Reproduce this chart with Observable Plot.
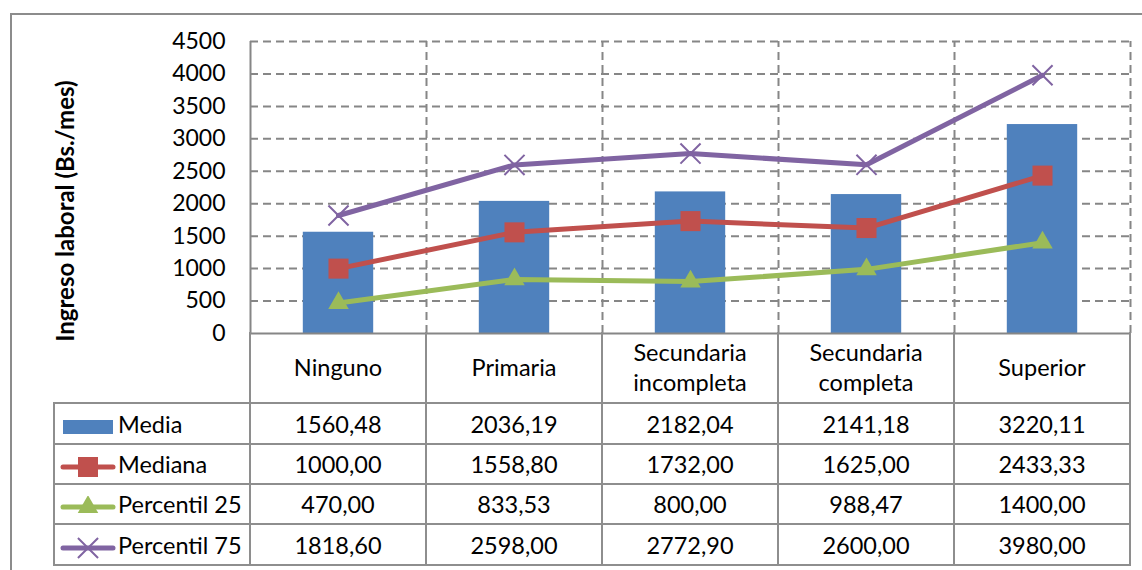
<!DOCTYPE html>
<html><head><meta charset="utf-8">
<script src="https://cdn.jsdelivr.net/npm/d3@7"></script>
<script src="https://cdn.jsdelivr.net/npm/@observablehq/plot@0.6"></script>
<style>
body{margin:0;background:#fff;font-family:Lato,"Open Sans",sans-serif;}
#wrap{position:relative;width:1142px;height:570px;overflow:hidden;background:#fff;}
#frame{position:absolute;left:10px;top:13px;width:1300px;height:700px;border-left:2px solid #8c8c8c;border-top:2px solid #8c8c8c;}
#chart{position:absolute;left:0;top:0;}
#ytitle{position:absolute;left:64px;top:211px;transform:translate(-50%,-50%) rotate(-90deg);font-weight:bold;font-size:24px;white-space:nowrap;color:#000;}
#tbl{position:absolute;left:53px;top:332px;border-collapse:collapse;table-layout:fixed;font-size:23.5px;color:#000;}
#tbl td{border:2px solid #8e8e8e;text-align:center;padding:0;line-height:30px;}
#tbl td.leg{text-align:left;white-space:nowrap;}
#tbl td.leg svg{vertical-align:middle;margin-left:5px;margin-right:2px;}
#tbl td.blank{border:none;}
#tbl tr.head td{border-top:none;}
</style>
</head><body>
<div id="wrap">
  <div id="frame"></div>
  <div id="chart"></div>
  <div id="ytitle"></div>
</div>
<script>
const categories = ["Ninguno", "Primaria", "Secundaria incompleta", "Secundaria completa", "Superior"];
const categoryLines = [["Ninguno"], ["Primaria"], ["Secundaria", "incompleta"], ["Secundaria", "completa"], ["Superior"]];
const media = [1560.48, 2036.19, 2182.04, 2141.18, 3220.11];
const mediana = [1000.00, 1558.80, 1732.00, 1625.00, 2433.33];
const percentil25 = [470.00, 833.53, 800.00, 988.47, 1400.00];
const percentil75 = [1818.60, 2598.00, 2772.90, 2600.00, 3980.00];
const yTicks = [0, 500, 1000, 1500, 2000, 2500, 3000, 3500, 4000, 4500];
const yTitle = "Ingreso laboral (Bs./mes)";

document.getElementById("ytitle").textContent = yTitle;

const W = 1142, H = 345, ML = 250, MR = 12, MT = 41, MB = 12;
const bw = (W - ML - MR) / categories.length;
const gridStyle = {stroke: "#868686", strokeWidth: 2, strokeDasharray: "8,5"};

const lineSeries = [
  {name: "Mediana", values: mediana, color: "#C0504D", symbol: "square", r: 11.3, fill: true},
  {name: "Percentil 25", values: percentil25, color: "#9BBB59", symbol: "triangle", r: 7.6, fill: true},
  {name: "Percentil 75", values: percentil75, color: "#8064A2", symbol: "times", r: 9.2, fill: false}
];

const rows = categories.map((c, i) => ({cat: c, media: media[i]}));
const yMax = yTicks[yTicks.length - 1];

const marks = [
  Plot.ruleY(yTicks.slice(1), gridStyle),
  Plot.ruleX(categories.slice(1), {y1: 0, y2: yMax, dx: -bw / 2, ...gridStyle}),
  Plot.ruleX(categories.slice(-1), {y1: 0, y2: yMax, dx: bw / 2, ...gridStyle}),
  Plot.barY(rows, {x: "cat", y: "media", fill: "#4F81BD", insetLeft: bw * 0.3, insetRight: bw * 0.3}),
  Plot.ruleX(categories.slice(0, 1), {y1: 0, y2: yMax, dx: -bw / 2, stroke: "#868686", strokeWidth: 2}),
  Plot.ruleY([0], {stroke: "#868686", strokeWidth: 2})
];
for (const s of lineSeries) {
  const d = categories.map((c, i) => ({cat: c, v: s.values[i]}));
  marks.push(Plot.line(d, {x: "cat", y: "v", stroke: s.color, strokeWidth: 5, strokeLinejoin: "round", strokeLinecap: "round"}));
  marks.push(Plot.dot(d, s.fill
    ? {x: "cat", y: "v", symbol: s.symbol, r: s.r, fill: s.color, stroke: "none"}
    : {x: "cat", y: "v", symbol: s.symbol, r: s.r, stroke: s.color, strokeWidth: 2, fill: "none"}));
}

const chart = Plot.plot({
  width: W, height: H,
  marginLeft: ML, marginRight: MR, marginTop: MT, marginBottom: MB,
  style: {fontFamily: "Lato, 'Open Sans', sans-serif", fontSize: "23px", color: "#000", background: "transparent", overflow: "visible"},
  x: {domain: categories, padding: 0, axis: null},
  y: {domain: [0, yMax], ticks: yTicks, tickFormat: d => String(d), tickSize: 0, tickPadding: 25, label: null},
  marks
});
document.getElementById("chart").appendChild(chart);

// data table
const fmt = v => v.toFixed(2).replace(".", ",");
const tbl = document.createElement("table");
tbl.id = "tbl";
const colgroup = document.createElement("colgroup");
[196, ...categories.map(() => bw)].forEach(w => {
  const col = document.createElement("col");
  col.style.width = w + "px";
  colgroup.appendChild(col);
});
tbl.appendChild(colgroup);

const head = document.createElement("tr");
head.className = "head";
head.style.height = "71px";
const blank = document.createElement("td");
blank.className = "blank";
head.appendChild(blank);
categoryLines.forEach(lines => {
  const td = document.createElement("td");
  td.innerHTML = lines.join("<br>");
  head.appendChild(td);
});
tbl.appendChild(head);

function legendIcon(kind, s) {
  const svgNS = "http://www.w3.org/2000/svg";
  const svg = document.createElementNS(svgNS, "svg");
  svg.setAttribute("width", 56);
  svg.setAttribute("height", 22);
  if (kind === "bar") {
    const r = document.createElementNS(svgNS, "rect");
    r.setAttribute("x", 3); r.setAttribute("y", 4); r.setAttribute("width", 50); r.setAttribute("height", 14);
    r.setAttribute("fill", "#4F81BD");
    svg.appendChild(r);
  } else {
    const l = document.createElementNS(svgNS, "line");
    l.setAttribute("x1", 3); l.setAttribute("x2", 53); l.setAttribute("y1", 11); l.setAttribute("y2", 11);
    l.setAttribute("stroke", s.color); l.setAttribute("stroke-width", 5); l.setAttribute("stroke-linecap", "round");
    svg.appendChild(l);
    const symMap = {square: d3.symbolSquare, triangle: d3.symbolTriangle, times: d3.symbolTimes};
    const p = document.createElementNS(svgNS, "path");
    p.setAttribute("d", d3.symbol(symMap[s.symbol], Math.PI * s.r * s.r)());
    p.setAttribute("transform", "translate(28,11)");
    if (s.fill) { p.setAttribute("fill", s.color); }
    else { p.setAttribute("fill", "none"); p.setAttribute("stroke", s.color); p.setAttribute("stroke-width", 2); }
    svg.appendChild(p);
  }
  return svg;
}

const tableRows = [
  {name: "Media", values: media, kind: "bar"},
  ...lineSeries.map(s => ({name: s.name, values: s.values, kind: "line", s}))
];
const rowHeights = [41, 40, 40, 41];
tableRows.forEach((r, k) => {
  const tr = document.createElement("tr");
  tr.style.height = rowHeights[k] + "px";
  const td0 = document.createElement("td");
  td0.className = "leg";
  td0.appendChild(legendIcon(r.kind, r.s));
  td0.appendChild(document.createTextNode(r.name));
  tr.appendChild(td0);
  r.values.forEach(v => {
    const td = document.createElement("td");
    td.textContent = fmt(v);
    tr.appendChild(td);
  });
  tbl.appendChild(tr);
});
document.getElementById("wrap").appendChild(tbl);
</script>
</body></html>
